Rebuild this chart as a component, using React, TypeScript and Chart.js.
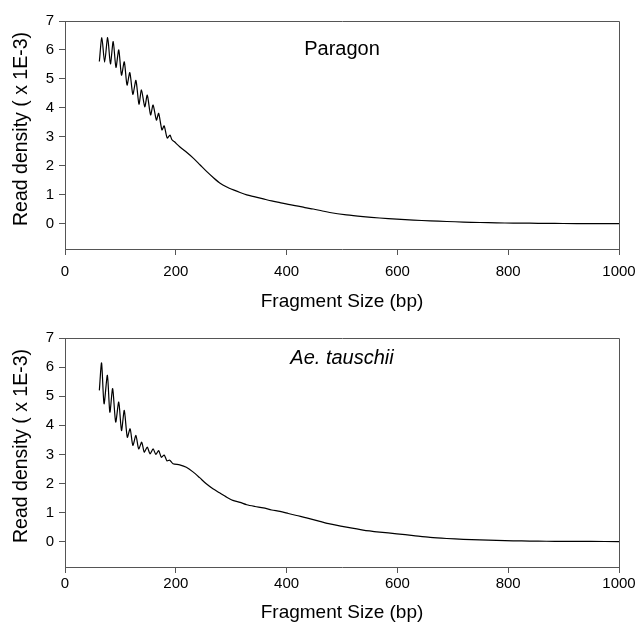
import React, { useEffect, useRef } from 'react';
import { Chart, registerables } from 'chart.js';

Chart.register(...registerables);

const xTicks = [0, 200, 400, 600, 800, 1000];
const yTicks = [0, 1, 2, 3, 4, 5, 6, 7];

const paragonSize = [
  62, 66.5, 71.5, 77, 82, 87, 92, 97, 102, 107, 112, 117, 122.5, 128, 133.5, 138, 144, 148.5,
  154.5, 159, 165, 169, 175, 179, 184.5, 189.5, 193, 197, 207, 220, 232, 244, 256, 268, 280,
  292, 304, 316, 328, 343, 358, 373, 388, 403, 418, 433, 448, 463, 478, 508, 538, 568, 599,
  629, 659, 689, 719, 749, 779, 809, 839, 869, 899, 949, 1000,
];
const paragonDensity = [
  5.6, 6.43, 5.58, 6.43, 5.52, 6.29, 5.4, 6.0, 5.13, 5.59, 4.79, 5.22, 4.47, 4.95, 4.13, 4.62,
  4.04, 4.44, 3.76, 4.1, 3.58, 3.81, 3.24, 3.38, 2.96, 3.06, 2.9, 2.84, 2.66, 2.46, 2.26, 2.03,
  1.8, 1.59, 1.4, 1.27, 1.17, 1.08, 1.0, 0.93, 0.86, 0.79, 0.73, 0.67, 0.62, 0.56, 0.51, 0.45,
  0.39, 0.31, 0.25, 0.2, 0.16, 0.13, 0.1, 0.08, 0.06, 0.045, 0.03, 0.025, 0.02, 0.015, 0.01,
  0.008, 0.005,
];

const tauschiiSize = [
  62, 66, 70.5, 76.5, 81, 86, 91.5, 97, 102, 107, 112.5, 117.5, 122.5, 128, 133, 138.5, 143,
  148.5, 153.5, 159, 164, 169, 174, 179, 184, 189, 195, 207, 219, 231, 243, 255, 267, 279, 291,
  303, 316, 328, 343, 358, 373, 388, 403, 418, 436, 460, 478, 508, 538, 568, 599, 629, 659, 689,
  719, 749, 779, 809, 839, 869, 899, 949, 1000,
];
const tauschiiDensity = [
  5.2, 6.14, 4.74, 5.72, 4.45, 5.26, 4.11, 4.8, 3.82, 4.51, 3.59, 3.88, 3.31, 3.65, 3.19, 3.42,
  3.08, 3.25, 3.02, 3.19, 3.0, 3.13, 2.9, 2.98, 2.78, 2.8, 2.68, 2.64, 2.56, 2.4, 2.2, 1.99,
  1.82, 1.68, 1.54, 1.42, 1.35, 1.27, 1.21, 1.16, 1.09, 1.04, 0.97, 0.9, 0.82, 0.7, 0.61, 0.5,
  0.4, 0.33, 0.27, 0.21, 0.15, 0.11, 0.08, 0.06, 0.045, 0.03, 0.02, 0.015, 0.01, 0.008, 0.005,
];

const FONT = "'Liberation Sans', Arial, sans-serif";
const AXIS_COLOR = '#555555';
const Y_TITLE = 'Read density ( x 1E-3)';

const framePlugin = {
  id: 'frameBox',
  afterDraw(chart: any) {
    const { ctx, chartArea } = chart;
    ctx.save();
    ctx.strokeStyle = AXIS_COLOR;
    ctx.lineWidth = 1;
    ctx.beginPath();
    const l = Math.round(chartArea.left) + 0.5;
    const r = Math.round(chartArea.right) + 0.5;
    const t = Math.round(chartArea.top) + 0.5;
    const b = Math.round(chartArea.bottom) + 0.5;
    ctx.moveTo(l, t);
    ctx.lineTo(r, t);
    ctx.lineTo(r, b);
    ctx.stroke();
    ctx.restore();
  },
};

const textPlugin = {
  id: 'insetLabel',
  afterDraw(chart: any, _args: any, opts: any) {
    if (!opts) return;
    const { ctx, chartArea } = chart;
    const xs = chart.scales.x;
    const ys = chart.scales.y;
    ctx.save();
    ctx.fillStyle = '#000';
    // inset label
    ctx.font = `${opts.italic ? 'italic ' : ''}20px ${FONT}`;
    ctx.textAlign = 'center';
    ctx.textBaseline = 'middle';
    ctx.fillText(opts.text, xs.getPixelForValue(opts.x), ys.getPixelForValue(opts.y));
    // y axis title
    ctx.translate(22, chartArea.top + 108);
    ctx.rotate(-Math.PI / 2);
    ctx.font = `19.5px ${FONT}`;
    ctx.fillText(Y_TITLE, 0, 0);
    ctx.restore();
  },
};

type Layout = {
  top: number;
  xHeight: number;
  tickPad: number;
  titlePad: number;
};

function buildConfig(
  sizes: number[],
  dens: number[],
  label: string,
  italic: boolean,
  labelY: number,
  lay: Layout,
): any {
  return {
    type: 'line',
    data: {
      datasets: [
        {
          data: sizes.map((s, i) => ({ x: s, y: dens[i] })),
          borderColor: '#000',
          borderWidth: 1.2,
          pointRadius: 0,
          tension: 0.25,
          fill: false,
        },
      ],
    },
    plugins: [framePlugin, textPlugin],
    options: {
      responsive: false,
      animation: false,
      events: [],
      layout: { padding: { top: lay.top, right: 17, left: 0, bottom: 0 } },
      plugins: {
        legend: { display: false },
        tooltip: { enabled: false },
        insetLabel: { text: label, italic, x: 500, y: labelY },
      },
      scales: {
        x: {
          type: 'linear',
          min: 0,
          max: 1000,
          afterBuildTicks: (s: any) => {
            s.ticks = xTicks.map((v) => ({ value: v }));
          },
          afterFit: (s: any) => {
            s.height = lay.xHeight;
            s.paddingLeft = 0;
            s.paddingRight = 0;
          },
          grid: { drawOnChartArea: false, drawTicks: true, tickLength: 6, color: AXIS_COLOR },
          border: { display: true, color: AXIS_COLOR, width: 1 },
          ticks: {
            font: { family: FONT, size: 15 },
            color: '#000',
            padding: lay.tickPad,
            maxRotation: 0,
            autoSkip: false,
            callback: (v: any) => String(v),
          },
          title: {
            display: true,
            text: 'Fragment Size (bp)',
            font: { family: FONT, size: 19 },
            color: '#000',
            padding: { top: 0, bottom: lay.titlePad },
          },
        },
        y: {
          type: 'linear',
          min: -0.87,
          max: 7,
          afterBuildTicks: (s: any) => {
            s.ticks = yTicks.map((v) => ({ value: v }));
          },
          afterFit: (s: any) => {
            s.width = 65;
          },
          grid: { drawOnChartArea: false, drawTicks: true, tickLength: 6, color: AXIS_COLOR },
          border: { display: true, color: AXIS_COLOR, width: 1 },
          ticks: {
            font: { family: FONT, size: 15 },
            color: '#000',
            padding: 5,
            autoSkip: false,
            callback: (v: any) => String(v),
          },
          title: { display: false },
        },
      },
    },
  };
}

function Panel(props: {
  sizes: number[];
  dens: number[];
  label: string;
  italic: boolean;
  labelY: number;
  lay: Layout;
}) {
  const ref = useRef<HTMLCanvasElement | null>(null);
  useEffect(() => {
    if (!ref.current) return;
    const chart = new Chart(
      ref.current,
      buildConfig(props.sizes, props.dens, props.label, props.italic, props.labelY, props.lay),
    );
    return () => chart.destroy();
  }, []);
  return (
    <canvas
      ref={ref}
      width={636}
      height={317}
      style={{ display: 'block', width: 636, height: 317 }}
    />
  );
}

export default function App() {
  return (
    <div
      style={{
        position: 'absolute',
        left: 0,
        top: 0,
        width: 636,
        height: 634,
        background: '#fff',
      }}
    >
      <Panel
        sizes={paragonSize}
        dens={paragonDensity}
        label="Paragon"
        italic={false}
        labelY={6.0}
        lay={{ top: 21, xHeight: 68, tickPad: 8, titlePad: 3.6 }}
      />
      <Panel
        sizes={tauschiiSize}
        dens={tauschiiDensity}
        label="Ae. tauschii"
        italic={true}
        labelY={6.3}
        lay={{ top: 21, xHeight: 67, tickPad: 2, titlePad: 9.6 }}
      />
    </div>
  );
}
